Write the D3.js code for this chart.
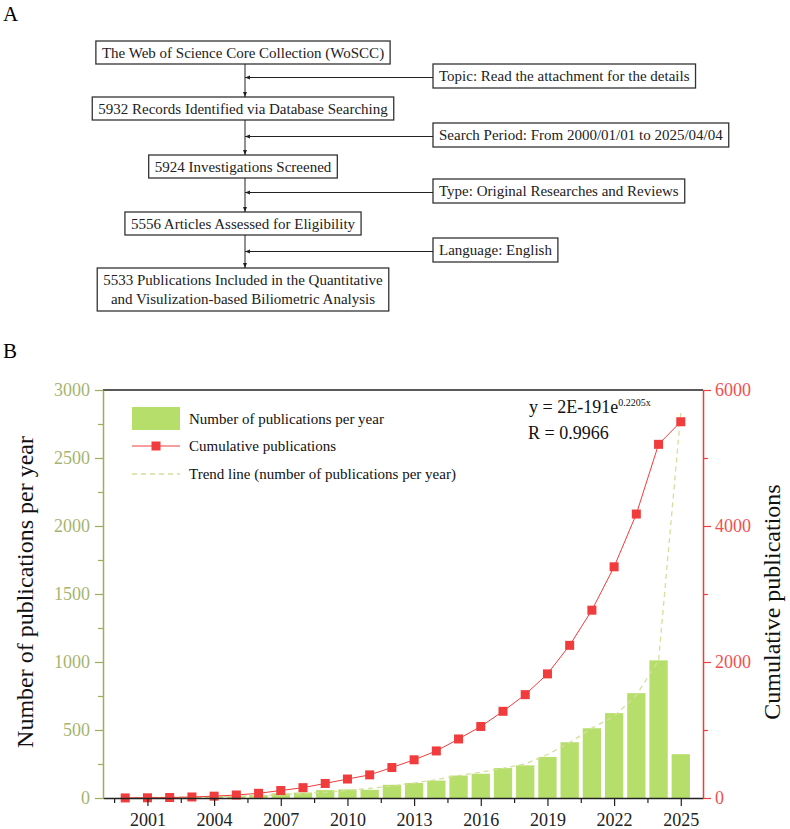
<!DOCTYPE html>
<html>
<head>
<meta charset="utf-8">
<script src="https://cdn.jsdelivr.net/npm/d3@7"></script>
<style>
  body { margin: 0; background: #fff; }
  svg { display: block; font-family: "Liberation Serif", "Times New Roman", serif; }
</style>
</head>
<body>
<svg id="fig" width="790" height="829"></svg>
<script>
// flowchart text
const mainSteps = [
  ["The Web of Science Core Collection (WoSCC)"],
  ["5932 Records Identified via Database Searching"],
  ["5924 Investigations Screened"],
  ["5556 Articles Assessed for Eligibility"],
  ["5533 Publications Included in the Quantitative", "and Visulization-based Biliometric Analysis"]
]
const criteria = [
  "Topic: Read the attachment for the details",
  "Search Period: From 2000/01/01 to 2025/04/04",
  "Type: Original Researches and Reviews",
  "Language: English"
]

// chart data
const years = [2000, 2001, 2002, 2003, 2004, 2005, 2006, 2007, 2008, 2009, 2010, 2011, 2012,
  2013, 2014, 2015, 2016, 2017, 2018, 2019, 2020, 2021, 2022, 2023, 2024, 2025]
const perYear = [1, 2, 4, 8, 12, 14, 22, 34, 40, 58, 63, 60, 97,
  110, 128, 165, 178, 220, 240, 302, 410, 513, 624, 771, 1012, 322]
const cumulative = [1, 3, 7, 15, 27, 44, 69, 110, 152, 214, 279, 340, 448,
  562, 692, 868, 1052, 1275, 1520, 1825, 2245, 2762, 3400, 4176, 5201, 5533]
const trend = [3, 4, 5, 7, 10, 13, 18, 24, 32, 42, 55, 70, 88,
  110, 135, 165, 190, 218, 250, 320, 407, 514, 600, 757, 1010, 2830]
const xMajor = [2001, 2004, 2007, 2010, 2013, 2016, 2019, 2022, 2025]
const xMinor = [1999.5, 2002.5, 2005.5, 2008.5, 2011.5, 2014.5, 2017.5, 2020.5, 2023.5]
const leftMajor = [0, 500, 1000, 1500, 2000, 2500, 3000]
const leftMinor = [250, 750, 1250, 1750, 2250, 2750]
const rightMajor = [0, 2000, 4000, 6000]
const rightMinor = [1000, 3000, 5000]
const legendItems = ["Number of publications per year", "Cumulative publications",
  "Trend line (number of publications per year)"]

const BAR = "#b6de6a"
const RED = "#f03c3c"
const OLIVE = "#9aae5e"
const OLIVE_TXT = "#a6b471"
const TREND = "#d3df9b"

let svg = d3.select("#fig")

// ---------- A: flowchart ----------
svg.append("text").attr("x", 3).attr("y", 21).style("font-size", "21px").text("A")

let defs = svg.append("defs")
defs.append("marker").attr("id", "arr")
  .attr("viewBox", "0 0 10 10").attr("refX", 10).attr("refY", 5)
  .attr("markerWidth", 5).attr("markerHeight", 5).attr("orient", "auto")
  .append("path").attr("d", "M0,1 L10,5 L0,9 Z").attr("fill", "#222")

const LINE_X = 245
const BOX_CX = 243
const boxTops = [41, 97, 155, 212, 268]
const FS = 15
let flow = svg.append("g").style("font-size", FS + "px").style("fill", "#222")

let boxBottoms = []
mainSteps.forEach((lines, i) => {
  let h = lines.length > 1 ? 43 : 23
  let g = flow.append("g")
  let rect = g.append("rect").attr("fill", "#fff").attr("stroke", "#333").attr("stroke-width", 1.3)
  let maxW = 0
  lines.forEach((ln, j) => {
    let t = g.append("text").attr("x", BOX_CX).attr("text-anchor", "middle")
      .attr("y", boxTops[i] + (lines.length > 1 ? 17 + j * 19 : 16.5)).text(ln)
    maxW = Math.max(maxW, t.node().getComputedTextLength())
  })
  let w = maxW + 12
  rect.attr("x", BOX_CX - w / 2).attr("y", boxTops[i]).attr("width", w).attr("height", h)
  boxBottoms.push(boxTops[i] + h)
})

// vertical arrows between main boxes
for (let i = 0; i < mainSteps.length - 1; i++) {
  flow.append("line").attr("x1", LINE_X).attr("x2", LINE_X)
    .attr("y1", boxBottoms[i]).attr("y2", boxTops[i + 1])
    .attr("stroke", "#222").attr("stroke-width", 1).attr("marker-end", "url(#arr)")
}

// criteria boxes with arrows into the main line
const sideTops = [64, 123, 179, 238]
const SIDE_X = 433
criteria.forEach((c, i) => {
  let g = flow.append("g")
  let rect = g.append("rect").attr("fill", "#fff").attr("stroke", "#333").attr("stroke-width", 1.3)
  let t = g.append("text").attr("x", SIDE_X + 6).attr("y", sideTops[i] + 17).text(c)
  let w = t.node().getComputedTextLength() + 12
  rect.attr("x", SIDE_X).attr("y", sideTops[i]).attr("width", w).attr("height", 24)
  let ly = sideTops[i] + 13.5
  flow.append("line").attr("x1", SIDE_X).attr("x2", LINE_X)
    .attr("y1", ly).attr("y2", ly)
    .attr("stroke", "#222").attr("stroke-width", 1).attr("marker-end", "url(#arr)")
})

// ---------- B: chart ----------
svg.append("text").attr("x", 3).attr("y", 358).style("font-size", "21px").text("B")

const L = 103, R = 703, T = 390, Bt = 798
let x = d3.scaleLinear().domain([1999, 2026]).range([L, R])
let yL = d3.scaleLinear().domain([0, 3000]).range([Bt, T])
let yR = d3.scaleLinear().domain([0, 6000]).range([Bt, T])
const barW = 18.3

let chart = svg.append("g")

// bars
chart.append("g").selectAll("rect").data(years).join("rect")
  .attr("x", (d) => x(d) - barW / 2)
  .attr("y", (d, i) => yL(perYear[i]))
  .attr("width", barW)
  .attr("height", (d, i) => Bt - yL(perYear[i]))
  .attr("fill", BAR)

// trend line
chart.append("path")
  .datum(years)
  .attr("fill", "none").attr("stroke", TREND).attr("stroke-width", 1.3)
  .attr("stroke-dasharray", "5,4")
  .attr("d", d3.line().x((d) => x(d)).y((d, i) => yL(trend[i])))

// cumulative line + markers
chart.append("path")
  .datum(years)
  .attr("fill", "none").attr("stroke", RED).attr("stroke-width", 1)
  .attr("d", d3.line().x((d) => x(d)).y((d, i) => yR(cumulative[i])))
const MK = 9
chart.append("g").selectAll("rect").data(years).join("rect")
  .attr("x", (d) => x(d) - MK / 2)
  .attr("y", (d, i) => yR(cumulative[i]) - MK / 2)
  .attr("width", MK).attr("height", MK)
  .attr("fill", RED)

// top frame
chart.append("line").attr("x1", L).attr("x2", R).attr("y1", T).attr("y2", T)
  .attr("stroke", "#222").attr("stroke-width", 1.5)

let styleAxis = (g, color, txtColor) => {
  g.select(".domain").attr("stroke", color).attr("stroke-width", 1.5)
  g.selectAll(".tick line").attr("stroke", color).attr("stroke-width", 1.2)
  g.selectAll(".tick text").attr("fill", txtColor)
    .style("font-size", "18px").style("font-family", "Liberation Serif, Times New Roman, serif")
}
const fmt = d3.format("d")

// bottom axis
let xMinorG = chart.append("g").attr("transform", `translate(0,${Bt})`)
  .call(d3.axisBottom(x).tickValues(xMinor).tickSize(5).tickFormat(""))
xMinorG.select(".domain").remove()
xMinorG.selectAll(".tick line").attr("stroke", "#222").attr("stroke-width", 1.2)
let xG = chart.append("g").attr("transform", `translate(0,${Bt})`)
  .call(d3.axisBottom(x).tickValues(xMajor).tickSize(8).tickSizeOuter(0).tickPadding(7).tickFormat(fmt))
styleAxis(xG, "#222", "#222")

// left axis
let lMinor = chart.append("g").attr("transform", `translate(${L},0)`)
  .call(d3.axisLeft(yL).tickValues(leftMinor).tickSize(5).tickFormat(""))
lMinor.select(".domain").remove()
lMinor.selectAll(".tick line").attr("stroke", OLIVE).attr("stroke-width", 1.2)
let lG = chart.append("g").attr("transform", `translate(${L},0)`)
  .call(d3.axisLeft(yL).tickValues(leftMajor).tickSize(8).tickSizeOuter(0).tickPadding(5).tickFormat(fmt))
styleAxis(lG, OLIVE, OLIVE_TXT)

// right axis
let rMinor = chart.append("g").attr("transform", `translate(${R},0)`)
  .call(d3.axisRight(yR).tickValues(rightMinor).tickSize(5).tickFormat(""))
rMinor.select(".domain").remove()
rMinor.selectAll(".tick line").attr("stroke", RED).attr("stroke-width", 1.2)
let rG = chart.append("g").attr("transform", `translate(${R},0)`)
  .call(d3.axisRight(yR).tickValues(rightMajor).tickSize(8).tickSizeOuter(0).tickPadding(4).tickFormat(fmt))
styleAxis(rG, RED, "#f25050")

// axis titles
chart.append("text")
  .attr("transform", `translate(33,592) rotate(-90)`)
  .attr("text-anchor", "middle").style("font-size", "24px").style("fill", "#111")
  .text("Number of publications per year")
chart.append("text")
  .attr("transform", `translate(780,602) rotate(-90)`)
  .attr("text-anchor", "middle").style("font-size", "24px").style("fill", "#111")
  .text("Cumulative publications")

// legend
let lg = chart.append("g").style("font-size", "15px").style("fill", "#111")
const legY = [418.5, 446, 474]
lg.append("rect").attr("x", 132).attr("y", 407).attr("width", 48).attr("height", 23).attr("fill", BAR)
lg.append("line").attr("x1", 132).attr("x2", 180).attr("y1", legY[1]).attr("y2", legY[1])
  .attr("stroke", RED).attr("stroke-width", 1)
lg.append("rect").attr("x", 156 - MK / 2).attr("y", legY[1] - MK / 2).attr("width", MK).attr("height", MK).attr("fill", RED)
lg.append("line").attr("x1", 132).attr("x2", 180).attr("y1", legY[2]).attr("y2", legY[2])
  .attr("stroke", TREND).attr("stroke-width", 1.3).attr("stroke-dasharray", "5,4")
legendItems.forEach((t, i) => {
  lg.append("text").attr("x", 189).attr("y", legY[i] + 5).text(t)
})

// fit equation
let eq = chart.append("g").style("font-size", "18px").style("fill", "#111")
let eqT = eq.append("text").attr("x", 529).attr("y", 413)
eqT.append("tspan").text("y = 2E-191e")
eqT.append("tspan").attr("dy", -7).style("font-size", "10px").text("0.2205x")
eq.append("text").attr("x", 528).attr("y", 439).text("R = 0.9966")
</script>
</body>
</html>
